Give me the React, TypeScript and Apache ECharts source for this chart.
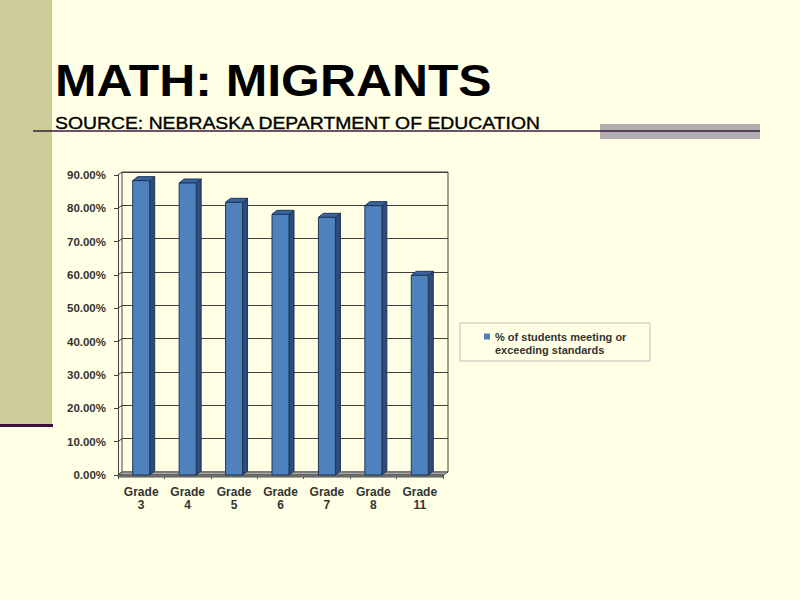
import React, { useEffect, useRef } from "react";
import * as echarts from "echarts";

const grades = ["Grade 3", "Grade 4", "Grade 5", "Grade 6", "Grade 7", "Grade 8", "Grade 11"];
const meetingPct = [88.3, 87.6, 81.8, 78.2, 77.3, 80.8, 59.9];
const yTicks = [0, 10, 20, 30, 40, 50, 60, 70, 80, 90];
const seriesName = "% of students meeting or exceeding standards";
const titleText = "MATH: MIGRANTS";
const subtitleText = "SOURCE: NEBRASKA DEPARTMENT OF EDUCATION";

const BG = "#FFFFE5";
const FRONT = "#4F81BD";
const SIDE = "#2C4D7A";
const TOP = "#3A64A0";
const EDGE = "#1F3557";
const DX = 5;
const DY = -4;

const App: React.FC = () => {
  const chartRef = useRef<HTMLDivElement>(null);

  useEffect(() => {
    document.body.style.margin = "0";
    const chart = echarts.init(chartRef.current!, null, { renderer: "svg" });

    const renderBar = (params: any, api: any) => {
      const top = api.coord([api.value(0), api.value(1)]);
      const base = api.coord([api.value(0), 0]);
      const w = 17;
      const x0 = top[0] - w / 2;
      const x1 = top[0] + w / 2;
      const y0 = top[1];
      const y1 = base[1];
      return {
        type: "group",
        children: [
          {
            type: "polygon",
            shape: { points: [[x1, y0], [x1 + DX, y0 + DY], [x1 + DX, y1 + DY], [x1, y1]] },
            style: { fill: SIDE, stroke: EDGE, lineWidth: 1 },
          },
          {
            type: "polygon",
            shape: { points: [[x0, y0], [x0 + DX, y0 + DY], [x1 + DX, y0 + DY], [x1, y0]] },
            style: { fill: TOP, stroke: EDGE, lineWidth: 1 },
          },
          {
            type: "rect",
            shape: { x: x0, y: y0, width: w, height: y1 - y0 },
            style: { fill: FRONT, stroke: EDGE, lineWidth: 1 },
          },
        ],
      };
    };

    // short links between the front axis and the back wall
    const renderLink = (params: any, api: any) => {
      const y = api.coord([0, api.value(1)])[1];
      const x = params.coordSys.x;
      return {
        type: "line",
        shape: { x1: x, y1: y, x2: x + 4, y2: y - 3 },
        style: { stroke: "#404040", lineWidth: 1 },
      };
    };

    chart.setOption({
      animation: false,
      backgroundColor: BG,
      textStyle: { fontFamily: "Liberation Sans, Arial, sans-serif" },
      grid: [
        { left: 118, right: 357, top: 175, bottom: 125 },
        {
          left: 122,
          right: 352,
          top: 172,
          bottom: 128,
          show: true,
          borderColor: "#404040",
          borderWidth: 1,
          backgroundColor: "transparent",
        },
      ],
      xAxis: [
        {
          type: "category",
          gridIndex: 0,
          data: grades,
          axisLine: { show: false },
          axisTick: { show: true, length: 4, lineStyle: { color: "#555" } },
          axisLabel: {
            margin: 10,
            fontSize: 12,
            fontWeight: "bold",
            color: "#333",
            lineHeight: 13,
            formatter: (v: string) => v.replace(" ", "\n"),
          },
        },
        {
          type: "category",
          gridIndex: 1,
          data: grades,
          show: false,
        },
      ],
      yAxis: [
        {
          type: "value",
          gridIndex: 0,
          min: 0,
          max: 90,
          interval: 10,
          axisLine: { show: true, lineStyle: { color: "#404040" } },
          axisTick: { show: true, length: 4, lineStyle: { color: "#404040" } },
          splitLine: { show: false },
          axisLabel: {
            margin: 12,
            fontSize: 11.5,
            fontWeight: "bold",
            color: "#333",
            formatter: (v: number) => v.toFixed(2) + "%",
          },
        },
        {
          type: "value",
          gridIndex: 1,
          min: 0,
          max: 90,
          interval: 10,
          axisLine: { show: false },
          axisTick: { show: false },
          axisLabel: { show: false },
          splitLine: { show: true, lineStyle: { color: "#404040", width: 1 } },
        },
      ],
      legend: {
        left: 484,
        top: 317,
        padding: 0,
        itemWidth: 6,
        itemHeight: 6,
        data: [{ name: seriesName, icon: "rect", itemStyle: { color: FRONT } }],
        // empty first line keeps the marker beside the first text line
        formatter: (name: string) => "\n" + name.replace(" or ", " or\n"),
        textStyle: {
          fontSize: 11,
          fontWeight: "bold",
          color: "#333",
          lineHeight: 13,
        },
      },
      graphic: [
        // left decorative strip
        { type: "rect", shape: { x: 0, y: 0, width: 52, height: 425 }, style: { fill: "#CCCC99" }, z: 0 },
        { type: "rect", shape: { x: 0, y: 424, width: 53, height: 3 }, style: { fill: "#3C0F3C" }, z: 1 },
        // title band
        { type: "rect", shape: { x: 600, y: 124, width: 160, height: 15 }, style: { fill: "#B2AFB2" }, z: 0 },
        { type: "line", shape: { x1: 33, y1: 131, x2: 760, y2: 131 }, style: { stroke: "#3C1A3C", lineWidth: 1.5 }, z: 1 },
        {
          type: "text",
          x: 55,
          y: 58,
          scaleX: 1.108,
          style: {
            text: titleText,
            fill: "#000",
            font: "bold 45px Liberation Sans, Arial, sans-serif",
            verticalAlign: "top",
          },
          z: 2,
        },
        {
          type: "text",
          x: 55,
          y: 115,
          scaleX: 1.14,
          style: {
            text: subtitleText,
            fill: "#000",
            stroke: "#000",
            lineWidth: 0.35,
            font: "17px Liberation Sans, Arial, sans-serif",
            verticalAlign: "top",
          },
          z: 2,
        },
        // floor slab
        {
          type: "polygon",
          shape: { points: [[118, 475], [122, 472], [448, 472], [443, 475]] },
          style: { fill: "#A6A6A6", stroke: "#555", lineWidth: 1 },
          z: 1,
        },
        {
          type: "rect",
          shape: { x: 118, y: 475, width: 325, height: 2 },
          style: { fill: "#7F7F7F", stroke: "#555", lineWidth: 1 },
          z: 1,
        },
        // legend frame
        {
          type: "rect",
          shape: { x: 460, y: 323, width: 190, height: 38 },
          style: { fill: "none", stroke: "#BDBDBD", lineWidth: 1 },
          z: 1,
        },
      ],
      series: [
        {
          type: "custom",
          name: "links",
          xAxisIndex: 0,
          yAxisIndex: 0,
          renderItem: renderLink,
          data: yTicks.map((v) => [0, v]),
          z: 2,
          silent: true,
        },
        {
          type: "custom",
          name: seriesName,
          xAxisIndex: 0,
          yAxisIndex: 0,
          itemStyle: { color: FRONT },
          renderItem: renderBar,
          data: meetingPct.map((v, i) => [i, v]),
          z: 3,
        },
      ],
    });

    return () => {
      chart.dispose();
    };
  }, []);

  return <div ref={chartRef} style={{ width: "800px", height: "600px" }} />;
};

export default App;
